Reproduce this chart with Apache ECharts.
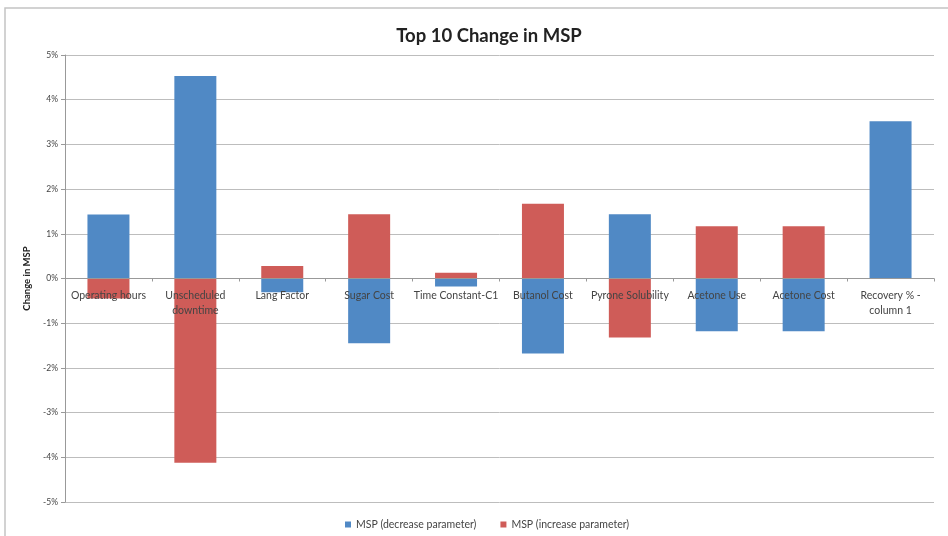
<!DOCTYPE html>
<html>
<head>
<meta charset="utf-8">
<script src="https://cdn.jsdelivr.net/npm/echarts@6/dist/echarts.min.js"></script>
<style>
  html, body { margin: 0; padding: 0; background: #fff; }
  #chart { width: 948px; height: 536px; }
</style>
</head>
<body>
<div id="chart"></div>
<script>
// Parameters ranked by their effect on MSP
const categories = [
  'Operating hours', 'Unscheduled\ndowntime', 'Lang Factor', 'Sugar Cost',
  'Time Constant-C1', 'Butanol Cost', 'Pyrone Solubility', 'Acetone Use',
  'Acetone Cost', 'Recovery % -\ncolumn 1'
];
// Change in MSP (%) when the parameter is decreased
const decreaseValues = [1.43, 4.53, -0.31, -1.45, -0.18, -1.68, 1.44, -1.18, -1.18, 3.52];
// Change in MSP (%) when the parameter is increased
const increaseValues = [-0.45, -4.12, 0.28, 1.44, 0.13, 1.67, -1.32, 1.17, 1.17, 0];
const yTicks = { min: -5, max: 5, step: 1 };

const font = 'Lato, "Open Sans", "Liberation Sans", sans-serif';
const gridTop = 55, gridBottom = 34, chartHeight = 536;
// the category axis sits on the 0% line, halfway down a symmetric value range
const zeroOffset = -(chartHeight - gridTop - gridBottom) / 2;

const chart = echarts.init(document.getElementById('chart'));
chart.setOption({
  animation: false,
  textStyle: { fontFamily: font },
  title: {
    text: 'Top 10 Change in MSP',
    left: 484,
    top: 22,
    textAlign: 'center',
    textStyle: { fontSize: 18.5, fontWeight: 'bold', color: '#222', fontFamily: font }
  },
  graphic: [{
    type: 'rect',
    shape: { x: 5, y: 8, width: 960, height: 560 },
    style: { fill: 'none', stroke: '#c4c4c4', lineWidth: 1.5 },
    silent: true
  }],
  legend: {
    top: 514,
    left: 340,
    itemWidth: 6,
    itemHeight: 6,
    itemGap: 24,
    icon: 'rect',
    textStyle: { fontSize: 10.5, color: '#444', fontFamily: font },
    data: ['MSP (decrease parameter)', 'MSP (increase parameter)']
  },
  grid: { left: 65, right: 14, top: gridTop, bottom: gridBottom, outerBoundsMode: 'none' },
  xAxis: {
    type: 'category',
    data: categories,
    position: 'bottom',
    offset: zeroOffset,
    axisLine: { onZero: false, lineStyle: { color: '#999', width: 1 } },
    axisTick: { show: true, length: 3, lineStyle: { color: '#999' } },
    axisLabel: { fontSize: 10.5, color: '#444', margin: 10, lineHeight: 15, interval: 0, fontFamily: font },
    z: 10
  },
  yAxis: {
    type: 'value',
    min: yTicks.min,
    max: yTicks.max,
    interval: yTicks.step,
    name: 'Change in MSP',
    nameLocation: 'middle',
    nameGap: 32,
    nameRotate: 90,
    nameTextStyle: { fontSize: 9.5, fontWeight: 'bold', color: '#222', fontFamily: font },
    axisLine: { show: true, lineStyle: { color: '#999' } },
    axisTick: { show: true, length: 4, lineStyle: { color: '#999' } },
    axisLabel: { fontSize: 8.5, color: '#444', margin: 7, formatter: v => v + '%', fontFamily: font },
    splitLine: { show: true, lineStyle: { color: '#bdbdbd', width: 1 } }
  },
  series: [
    {
      name: 'MSP (decrease parameter)',
      type: 'bar',
      stack: 'msp',
      barWidth: 42,
      itemStyle: { color: '#5089c5' },
      data: decreaseValues
    },
    {
      name: 'MSP (increase parameter)',
      type: 'bar',
      stack: 'msp',
      barWidth: 42,
      itemStyle: { color: '#cf5c58' },
      data: increaseValues
    }
  ]
});
</script>
</body>
</html>
